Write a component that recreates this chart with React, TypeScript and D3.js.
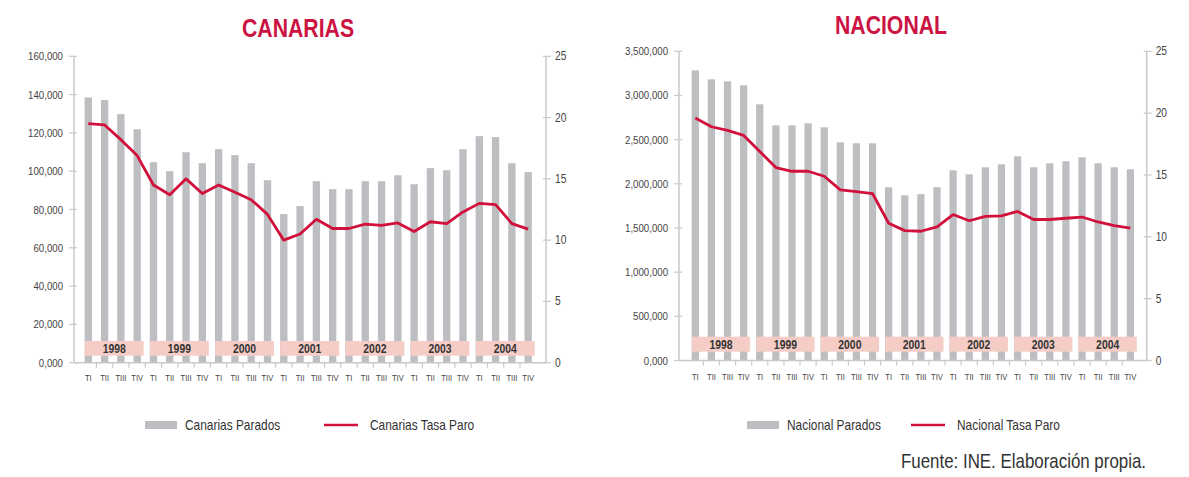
import React from "react";
import * as d3 from "d3";

const quarters = ["TI", "TII", "TIII", "TIV"];
const years = ["1998", "1999", "2000", "2001", "2002", "2003", "2004"];

const canariasParados = [
  138500, 137100, 129800, 121900,
  104700, 100000, 109900, 104200,
  111500, 108400, 104200, 95300,
  77600, 81800, 94800, 90600,
  90600, 94800, 94800, 97900,
  93200, 101600, 100500, 111500,
  118300, 117800, 104200, 99500,
];
const canariasTasa = [
  19.5, 19.4, 18.2, 16.9,
  14.5, 13.7, 15.0, 13.8,
  14.5, 13.9, 13.3, 12.1,
  10.0, 10.5, 11.7, 10.95,
  10.95, 11.3, 11.2, 11.4,
  10.7, 11.5, 11.35, 12.3,
  13.0, 12.9, 11.35, 10.9,
];
const nacionalParados = [
  3285000, 3183000, 3160000, 3115000,
  2900000, 2662000, 2662000, 2685000,
  2640000, 2470000, 2459000, 2459000,
  1961000, 1870000, 1882000, 1961000,
  2153000, 2108000, 2187000, 2221000,
  2312000, 2187000, 2232000, 2255000,
  2300000, 2232000, 2187000, 2164000,
];
const nacionalTasa = [
  19.6, 18.9, 18.6, 18.2,
  16.9, 15.6, 15.3, 15.3,
  14.9, 13.8, 13.65, 13.5,
  11.1, 10.5, 10.45, 10.8,
  11.8, 11.3, 11.65, 11.7,
  12.05, 11.4, 11.4, 11.5,
  11.6, 11.2, 10.9, 10.7,
];

const canariasLeftTicks = [0, 20000, 40000, 60000, 80000, 100000, 120000, 140000, 160000];
const canariasLeftLabels = ["0,000", "20,000", "40,000", "60,000", "80,000", "100,000", "120,000", "140,000", "160,000"];
const nacionalLeftTicks = [0, 500000, 1000000, 1500000, 2000000, 2500000, 3000000, 3500000];
const nacionalLeftLabels = ["0,000", "500,000", "1,000,000", "1,500,000", "2,000,000", "2,500,000", "3,000,000", "3,500,000"];
const rightTicks = [0, 5, 10, 15, 20, 25];

const FONT = "'Liberation Sans', Arial, sans-serif";
const BAR = "#bdbec2";
const LINE = "#d2103c";
const BAND = "#f5cdc6";
const AXIS = "#c9c9c9";
const TEXT = "#444";
const TITLE = "#cc1443";

type CTextProps = {
  x: number;
  y: number;
  s?: number;
  anchor?: "start" | "middle" | "end";
  size: number;
  weight?: string;
  fill?: string;
  children: React.ReactNode;
};

function CText({ x, y, s = 0.85, anchor = "start", size, weight = "normal", fill = TEXT, children }: CTextProps) {
  return (
    <text
      transform={`translate(${x},${y}) scale(${s},1)`}
      textAnchor={anchor}
      fontSize={size}
      fontWeight={weight}
      fill={fill}
      fontFamily={FONT}
    >
      {children}
    </text>
  );
}

type PanelProps = {
  title: string;
  titleX: number;
  titleY: number;
  parados: number[];
  tasa: number[];
  leftTicks: number[];
  leftLabels: string[];
  leftMax: number;
  axisL: number;
  axisR: number;
  top: number;
  bottom: number;
  bandStart: number;
  bandEnd: number;
  bandTop: number;
  bandH: number;
  labelY: number;
  legendY: number;
  legend1X: number;
  legend2X: number;
  legendName: string;
};

function Panel(p: PanelProps) {
  const labels = years.flatMap((y) => quarters.map((q) => `${y}-${q}`));
  const x = d3.scaleBand<string>().domain(labels).range([p.bandStart, p.bandEnd]).padding(0);
  const step = x.step();
  const bw = step * 0.45;
  const cx = (i: number) => (x(labels[i]) as number) + step / 2;
  const yL = d3.scaleLinear().domain([0, p.leftMax]).range([p.bottom, p.top]);
  const yR = d3.scaleLinear().domain([0, 25]).range([p.bottom, p.top]);
  const line = d3
    .line<number>()
    .x((_, i) => cx(i))
    .y((d) => yR(d))
    .curve(d3.curveLinear);

  return (
    <g fontFamily={FONT}>
      <CText x={p.titleX} y={p.titleY} anchor="middle" size={25} weight="bold" fill={TITLE} s={0.85}>
        {p.title}
      </CText>
      {p.parados.map((v, i) => (
        <rect key={"b" + i} x={cx(i) - bw / 2} y={yL(v)} width={bw} height={p.bottom - yL(v)} fill={BAR} />
      ))}
      {years.map((yr, k) => {
        const x0 = cx(k * 4) - 3.5;
        const x1 = cx(k * 4 + 3) + 6.5;
        return (
          <g key={"y" + yr}>
            <rect x={x0} y={p.bandTop} width={x1 - x0} height={p.bandH} fill={BAND} />
            <CText x={(x0 + x1) / 2} y={p.bandTop + p.bandH / 2 + 4.5} anchor="middle" size={13} weight="bold" fill="#333" s={0.8}>
              {yr}
            </CText>
          </g>
        );
      })}
      <line x1={p.axisL} x2={p.axisL} y1={p.top} y2={p.bottom} stroke={AXIS} strokeWidth={1.5} />
      <line x1={p.axisR} x2={p.axisR} y1={p.top} y2={p.bottom} stroke={AXIS} strokeWidth={1.5} />
      <line x1={p.axisL} x2={p.axisR} y1={p.bottom} y2={p.bottom} stroke={AXIS} strokeWidth={1.5} />
      {p.leftTicks.map((t, i) => (
        <g key={"lt" + i}>
          <line x1={p.axisL - 5} x2={p.axisL + 3} y1={yL(t)} y2={yL(t)} stroke={AXIS} strokeWidth={1.2} />
          <CText x={p.axisL - 11} y={yL(t) + 4} anchor="end" size={11.5} s={0.84}>
            {p.leftLabels[i]}
          </CText>
        </g>
      ))}
      {rightTicks.map((t) => (
        <g key={"rt" + t}>
          <line x1={p.axisR - 3} x2={p.axisR + 5} y1={yR(t)} y2={yR(t)} stroke={AXIS} strokeWidth={1.2} />
          <CText x={p.axisR + 9} y={yR(t) + 4} size={12} s={0.85}>
            {t}
          </CText>
        </g>
      ))}
      {labels.slice(1).map((l, i) => (
        <line
          key={"xt" + i}
          x1={x(l) as number}
          x2={x(l) as number}
          y1={p.bottom}
          y2={p.bottom + 5}
          stroke={AXIS}
          strokeWidth={1.2}
        />
      ))}
      {labels.map((l, i) => (
        <CText key={"xl" + i} x={cx(i)} y={p.labelY} anchor="middle" size={9.5} s={0.8}>
          {quarters[i % 4]}
        </CText>
      ))}
      <path d={line(p.tasa) || ""} fill="none" stroke={LINE} strokeWidth={2.8} strokeLinejoin="round" />
      <rect x={p.legend1X} y={p.legendY - 4} width={32} height={8} fill={BAR} />
      <CText x={p.legend1X + 40} y={p.legendY + 5} size={14} fill="#333" s={0.85}>
        {p.legendName} Parados
      </CText>
      <line x1={p.legend2X} x2={p.legend2X + 34} y1={p.legendY} y2={p.legendY} stroke={LINE} strokeWidth={2.6} />
      <CText x={p.legend2X + 46} y={p.legendY + 5} size={14} fill="#333" s={0.85}>
        {p.legendName} Tasa Paro
      </CText>
    </g>
  );
}

export default function App() {
  return (
    <svg width={1189} height={477} style={{ position: "absolute", left: 0, top: 0, background: "#fff" }}>
      <rect x={0} y={0} width={1189} height={477} fill="#fff" />
      <Panel
        title="CANARIAS"
        titleX={298}
        titleY={37}
        parados={canariasParados}
        tasa={canariasTasa}
        leftTicks={canariasLeftTicks}
        leftLabels={canariasLeftLabels}
        leftMax={160000}
        axisL={74}
        axisR={546}
        top={56.3}
        bottom={362.7}
        bandStart={80.15}
        bandEnd={536.3}
        bandTop={341}
        bandH={14.7}
        labelY={381}
        legendY={425}
        legend1X={145}
        legend2X={324}
        legendName="Canarias"
      />
      <Panel
        title="NACIONAL"
        titleX={891}
        titleY={33.5}
        parados={nacionalParados}
        tasa={nacionalTasa}
        leftTicks={nacionalLeftTicks}
        leftLabels={nacionalLeftLabels}
        leftMax={3500000}
        axisL={679}
        axisR={1146.7}
        top={51.3}
        bottom={360.5}
        bandStart={687.25}
        bandEnd={1138.4}
        bandTop={336.7}
        bandH={15}
        labelY={379.5}
        legendY={425}
        legend1X={747}
        legend2X={911}
        legendName="Nacional"
      />
      <CText x={1146} y={468} anchor="end" size={20} fill="#333" s={0.845}>
        Fuente: INE. Elaboración propia.
      </CText>
    </svg>
  );
}
